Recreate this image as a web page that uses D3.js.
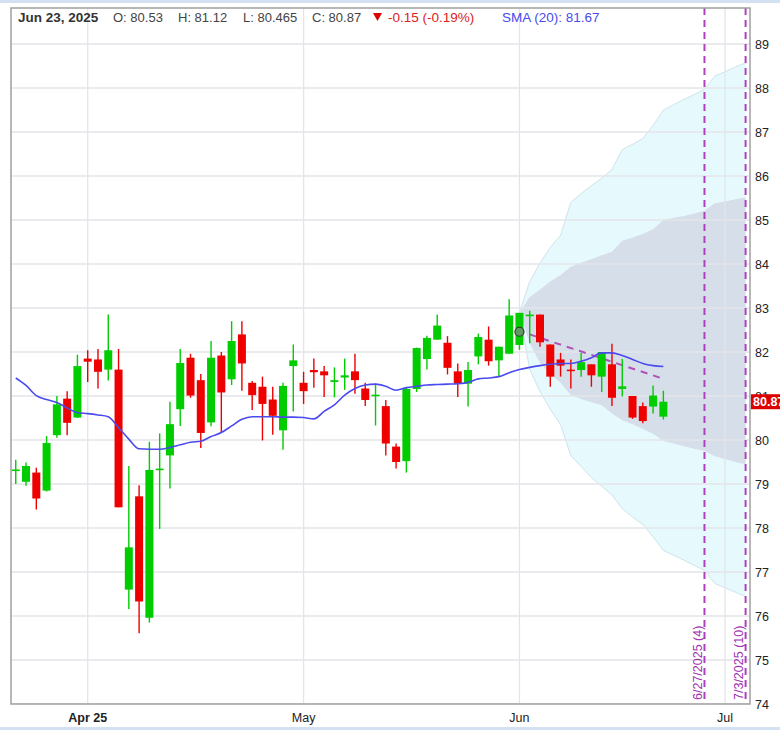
<!DOCTYPE html>
<html><head><meta charset="utf-8">
<script src="https://cdn.jsdelivr.net/npm/d3@7"></script>
<style>
body{margin:0;background:#fff;}
svg{display:block;font-family:"Liberation Sans",Arial,sans-serif;}
</style>
</head><body>
<svg id="chart" width="780" height="730"></svg>
<script>
// ---------- data ----------
const dates = [
 "2025-03-21","2025-03-24","2025-03-25","2025-03-26","2025-03-27","2025-03-28","2025-03-31",
 "2025-04-01","2025-04-02","2025-04-03","2025-04-04","2025-04-07","2025-04-08","2025-04-09","2025-04-10","2025-04-11",
 "2025-04-14","2025-04-15","2025-04-16","2025-04-17","2025-04-21","2025-04-22","2025-04-23","2025-04-24","2025-04-25",
 "2025-04-28","2025-04-29","2025-04-30",
 "2025-05-01","2025-05-02","2025-05-05","2025-05-06","2025-05-07","2025-05-08","2025-05-09","2025-05-12","2025-05-13",
 "2025-05-14","2025-05-15","2025-05-16","2025-05-19","2025-05-20","2025-05-21","2025-05-22","2025-05-23","2025-05-27",
 "2025-05-28","2025-05-29","2025-05-30",
 "2025-06-02","2025-06-03","2025-06-04","2025-06-05","2025-06-06","2025-06-09","2025-06-10","2025-06-11","2025-06-12",
 "2025-06-13","2025-06-16","2025-06-17","2025-06-18","2025-06-20","2025-06-23"
];
const futureDates = ["2025-06-24","2025-06-25","2025-06-26","2025-06-27","2025-06-30","2025-07-01","2025-07-02","2025-07-03"];

const openV = [79.30,79.05,79.26,78.85,80.11,80.94,80.51,
 81.85,81.83,81.60,81.60,76.60,78.72,75.96,79.33,79.65,80.70,81.87,81.36,80.40,81.92,81.38,82.40,81.30,81.21,80.92,80.22,81.68,
 81.30,81.59,81.56,81.32,81.42,81.56,81.17,81.00,80.77,79.85,79.52,81.16,81.84,82.28,82.21,81.56,81.28,81.90,82.28,81.81,81.96,
 82.16,82.83,82.85,82.17,81.83,81.60,81.59,81.72,81.44,81.72,81.16,81.00,80.77,80.76,80.53];
const highV = [79.55,79.49,79.37,80.09,81.00,81.11,81.94,
 82.04,82.07,82.85,82.07,79.41,78.97,79.96,80.15,80.87,82.07,81.96,81.50,82.25,82.00,82.70,82.70,81.34,81.44,81.21,81.30,82.17,
 81.55,81.85,81.68,81.65,81.85,81.96,81.30,81.28,80.91,79.92,81.18,82.10,82.37,82.85,82.36,81.74,81.77,82.42,82.58,82.12,83.20,
 82.89,82.94,82.85,82.17,81.98,81.83,81.98,81.72,82.00,82.19,81.84,81.00,80.85,81.24,81.12];
const lowV = [79.00,78.96,78.42,78.83,80.05,80.11,80.50,
 81.32,81.17,81.35,78.47,76.16,75.61,75.85,77.98,78.90,80.32,80.96,79.82,80.31,80.17,81.25,81.12,80.68,79.99,80.12,79.78,80.65,
 80.82,81.19,80.98,80.97,81.14,81.05,80.77,80.33,79.65,79.35,79.26,81.09,81.60,82.28,81.49,80.98,80.76,81.72,81.69,81.44,81.96,
 82.05,82.20,82.12,81.21,81.44,81.17,81.44,81.21,81.09,80.77,80.99,80.48,80.38,80.60,80.465];
const closeV = [79.33,79.41,78.67,79.93,80.81,80.39,81.68,
 81.78,81.55,82.04,78.47,77.56,76.33,79.32,79.35,80.36,81.75,81.01,80.16,81.87,81.08,82.25,81.74,81.02,80.82,80.55,81.23,81.81,
 81.11,81.54,81.47,81.36,81.47,81.36,80.91,81.03,79.92,79.50,81.16,82.09,82.32,82.60,81.64,81.28,81.59,82.34,81.79,82.12,82.83,
 82.89,82.85,82.22,81.44,81.69,81.58,81.77,81.47,82.00,80.96,81.22,80.51,80.43,81.01,80.87];
const smaV = [81.41,81.24,81.01,80.92,80.85,80.73,80.62,80.60,80.57,80.53,
 80.28,80.02,79.80,79.79,79.79,79.83,79.89,79.95,79.97,80.08,
 80.17,80.32,80.47,80.53,80.53,80.53,80.52,80.52,80.51,80.48,
 80.65,80.80,81.02,81.17,81.25,81.27,81.22,81.13,81.19,81.22,
 81.25,81.26,81.27,81.28,81.31,81.39,81.41,81.44,81.53,81.60,
 81.65,81.69,81.72,81.74,81.74,81.79,81.87,81.98,81.98,81.92,
 81.83,81.74,81.69,81.67];

// projection cone, from 2025-06-02 to 2025-07-03 (trading days)
const coneStart = "2025-06-02";
const coneOuterHigh = [82.90,83.60,84.02,84.38,84.65,85.40,85.60,85.78,85.95,86.15,86.60,86.72,86.85,87.15,87.50,87.62,87.74,87.85,87.97,88.27,88.37,88.48,88.57];
const coneInnerHigh = [82.90,83.25,83.42,83.60,83.75,83.94,84.03,84.11,84.20,84.28,84.53,84.60,84.68,84.79,85.00,85.05,85.09,85.15,85.21,85.38,85.42,85.47,85.51];
const coneInnerLow  = [82.90,82.20,81.75,81.50,81.30,81.02,80.93,80.86,80.79,80.60,80.45,80.36,80.25,80.14,79.98,79.92,79.86,79.80,79.75,79.63,79.57,79.50,79.45];
const coneOuterLow  = [82.90,81.60,81.10,80.70,80.35,79.64,79.40,79.15,78.95,78.75,78.44,78.25,78.08,77.80,77.49,77.38,77.27,77.15,77.04,76.74,76.64,76.54,76.44];

const trendDates = ["2025-06-03","2025-06-23"];
const trendValues = [82.40, 81.39];
const markerDates = ["2025-06-02"];
const markerValues = [82.46];

const eventDates = ["2025-06-27","2025-07-03"];
const eventLabels = ["6/27/2025 (4)","7/3/2025 (10)"];

const monthTickDates = ["2025-04-01","2025-05-01","2025-06-02","2025-07-01"];
const monthTickLabels = ["Apr 25","May","Jun","Jul"];
const yTicks = [74,75,76,77,78,79,80,81,82,83,84,85,86,87,88,89];

const headerDate = "Jun 23, 2025";
const headerO = "O: 80.53", headerH = "H: 81.12", headerL = "L: 80.465", headerC = "C: 80.87";
const headerChange = "-0.15 (-0.19%)";
const headerSMA = "SMA (20): 81.67";
const lastPrice = "80.87", lastValue = 80.87;

// ---------- drawing ----------
const svg = d3.select("#chart");
const P = {left:11, right:750, top:8, bottom:704};
const allDates = dates.concat(futureDates);
const x = d3.scalePoint().domain(allDates).range([15.75, 745.6]);
const y = d3.scaleLinear().domain([74,89]).range([704,44]);

const GREEN = "#00cc00", RED = "#ee0000";

svg.append("rect").attr("x",0).attr("y",0).attr("width",780).attr("height",730).attr("fill","#fff");
svg.append("rect").attr("x",0).attr("y",0).attr("width",780).attr("height",3).attr("fill","#d3e1f2");
svg.append("rect").attr("x",0).attr("y",727).attr("width",780).attr("height",3).attr("fill","#d3e1f2");

svg.append("clipPath").attr("id","clip").append("rect")
  .attr("x",P.left).attr("y",P.top).attr("width",P.right-P.left).attr("height",P.bottom-P.top);
const g = svg.append("g").attr("clip-path","url(#clip)");

// cone
const i0 = allDates.indexOf(coneStart);
const coneDates = allDates.slice(i0, i0 + coneOuterHigh.length);
const coneData = coneDates.map((d,i)=>({d, oh:coneOuterHigh[i], ih:coneInnerHigh[i], il:coneInnerLow[i], ol:coneOuterLow[i]}));
g.append("path").datum(coneData)
  .attr("d", d3.area().x(d=>x(d.d)).y0(d=>y(d.ol)).y1(d=>y(d.oh)))
  .attr("fill","#e6fafd");
g.append("path").datum(coneData).attr("d", d3.line().x(d=>x(d.d)).y(d=>y(d.oh))).attr("fill","none").attr("stroke","#cfe3ec").attr("stroke-width",1);
g.append("path").datum(coneData).attr("d", d3.line().x(d=>x(d.d)).y(d=>y(d.ol))).attr("fill","none").attr("stroke","#cfe3ec").attr("stroke-width",1);
g.append("path").datum(coneData)
  .attr("d", d3.area().x(d=>x(d.d)).y0(d=>y(d.il)).y1(d=>y(d.ih)))
  .attr("fill","#d6deea");

// gridlines
g.selectAll(".hg").data(yTicks).enter().append("line")
  .attr("x1",P.left).attr("x2",P.right).attr("y1",d=>y(d)).attr("y2",d=>y(d))
  .attr("stroke","#e3e5e8").attr("stroke-width",1.3);
g.selectAll(".vg").data(monthTickDates).enter().append("line")
  .attr("x1",d=>x(d)).attr("x2",d=>x(d)).attr("y1",P.top).attr("y2",P.bottom)
  .attr("stroke","#e3e5e8").attr("stroke-width",1.3);

// event lines
g.selectAll(".ev").data(eventDates).enter().append("line")
  .attr("x1",d=>x(d)).attr("x2",d=>x(d)).attr("y1",P.top).attr("y2",P.bottom)
  .attr("stroke","#b040c0").attr("stroke-width",2).attr("stroke-dasharray","7,5");

// trend dashed line
g.append("path").datum(trendDates.map((d,i)=>({d, v:trendValues[i]})))
  .attr("d", d3.line().x(d=>x(d.d)).y(d=>y(d.v)))
  .attr("fill","none").attr("stroke","#b050b8").attr("stroke-width",2).attr("stroke-dasharray","7,6");

// candles
const candles = dates.map((d,i)=>({d, o:openV[i], h:highV[i], l:lowV[i], c:closeV[i]}));
const cg = g.selectAll(".c").data(candles).enter().append("g");
cg.append("line")
  .attr("x1",d=>x(d.d)).attr("x2",d=>x(d.d))
  .attr("y1",d=>y(d.h)).attr("y2",d=>y(d.l))
  .attr("stroke",d=>d.c>=d.o?GREEN:RED).attr("stroke-width",1.4);
cg.append("rect")
  .attr("x",d=>x(d.d)-4).attr("width",8)
  .attr("y",d=>y(Math.max(d.o,d.c)))
  .attr("height",d=>Math.max(1.6, Math.abs(y(d.o)-y(d.c))))
  .attr("fill",d=>d.c>=d.o?GREEN:RED);

// SMA
g.append("path").datum(dates.map((d,i)=>({d, v:smaV[i]})))
  .attr("d", d3.line().x(d=>x(d.d)).y(d=>y(d.v)).curve(d3.curveMonotoneX))
  .attr("fill","none").attr("stroke","#4a4aee").attr("stroke-width",1.6);

// marker
g.selectAll(".mk").data(markerDates).enter().append("circle")
  .attr("cx",d=>x(d)).attr("cy",(d,i)=>y(markerValues[i])).attr("r",4.5)
  .attr("fill","#5f9a5f").attr("stroke","#333").attr("stroke-width",1.2);

// frame
svg.append("rect").attr("x",P.left).attr("y",P.top).attr("width",P.right-P.left).attr("height",P.bottom-P.top)
  .attr("fill","none").attr("stroke","#a0a0a0").attr("stroke-width",1.5);

// event labels
svg.selectAll(".evl").data(eventDates).enter().append("text")
  .attr("transform",d=>`translate(${x(d)-2.5},700) rotate(-90)`)
  .attr("font-size",12.5).attr("fill","#a030b0").text((d,i)=>eventLabels[i]);

// right axis labels
svg.selectAll(".yl").data(yTicks).enter().append("text")
  .attr("x",755).attr("y",d=>y(d)).attr("dy","0.36em")
  .attr("font-size",12.5).attr("fill","#222").text(d=>d);

// last price tag (text runs past the window edge, as in the reference)
svg.append("rect").attr("x",751).attr("y",y(lastValue)-7.5).attr("width",29).attr("height",15).attr("fill","#dd0000");
svg.append("text").attr("x",753).attr("y",y(lastValue)).attr("dy","0.36em")
  .attr("font-size",12.5).attr("font-weight","bold").attr("fill","#fff").text(lastPrice);

// bottom labels
svg.selectAll(".xl").data(monthTickDates).enter().append("text")
  .attr("x",d=>x(d)).attr("y",722).attr("text-anchor","middle")
  .attr("font-size",12.5).attr("fill","#222")
  .attr("font-weight",(d,i)=>i===0?"bold":"normal")
  .text((d,i)=>monthTickLabels[i]);

// header
const hy = 22;
svg.append("text").attr("x",18).attr("y",hy).attr("font-size",13.5).attr("font-weight","bold").attr("fill","#333").text(headerDate);
[[113,headerO],[178,headerH],[243,headerL],[312,headerC]].forEach(([hx,t])=>{
  svg.append("text").attr("x",hx).attr("y",hy).attr("font-size",13).attr("fill","#444").text(t);
});
svg.append("path").attr("d","M373,13 L382,13 L377.5,21 Z").attr("fill","#dd0000");
svg.append("text").attr("x",388).attr("y",hy).attr("font-size",13.5).attr("fill","#dd2222").text(headerChange);
svg.append("text").attr("x",502).attr("y",hy).attr("font-size",13.5).attr("fill","#4a4aee").text(headerSMA);
</script>
</body></html>
